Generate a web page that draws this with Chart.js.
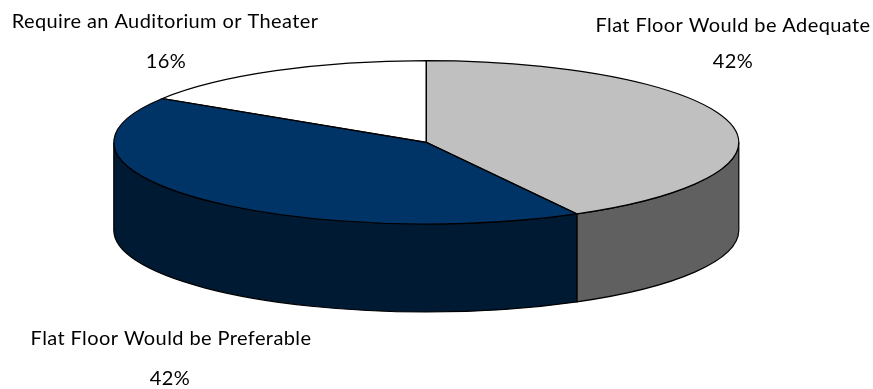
<!DOCTYPE html>
<html><head><meta charset="utf-8">
<style>html,body{margin:0;padding:0;background:#fff}#w{position:relative;width:873px;height:389px}</style>
<script src="https://cdn.jsdelivr.net/npm/chart.js@4"></script></head>
<body><div id="w"><canvas id="c" width="873" height="389"></canvas></div>
<script>
const categories = ["Flat Floor Would be Adequate","Flat Floor Would be Preferable","Require an Auditorium or Theater"];
const shares = [42,42,16];
const shareLabels = ["42%","42%","16%"];
const topColors = ["#c0c0c0","#003366","#ffffff"];
const sideColors = ["#606060","#001a33","#808080"];
const labelPos = [[733,26,733,62],[171,339,170,379],[165,22,166,62]];
const C = {cx:426.3,cy:142.3,rx:312.5,ry:81.7,depth:88};
const FONT = "20px Lato";
function squash(ctx,a){
  ctx.translate(C.cx,C.cy);
  ctx.scale(C.rx/a.outerRadius,C.ry/a.outerRadius);
  ctx.translate(-a.x,-a.y);
}
function pathSlice(ctx,a){
  ctx.beginPath();ctx.moveTo(a.x,a.y);ctx.arc(a.x,a.y,a.outerRadius,a.startAngle,a.endAngle);ctx.closePath();
}
function pathSide(ctx,a){
  const s=Math.max(a.startAngle,0), e=Math.min(a.endAngle,Math.PI);
  if(e<=s) return false;
  const h=C.depth*a.outerRadius/C.ry;
  ctx.beginPath();ctx.arc(a.x,a.y,a.outerRadius,s,e);ctx.lineTo(a.x+a.outerRadius*Math.cos(e),a.y+a.outerRadius*Math.sin(e)+h);
  ctx.arc(a.x,a.y+h,a.outerRadius,e,s,true);ctx.closePath();
  return true;
}
const pie3d = {id:"pie3d",
  beforeDatasetsDraw(chart){
    const ctx=chart.ctx, arcs=chart.getDatasetMeta(0).data;
    arcs.forEach((a,i)=>{
      ctx.save();squash(ctx,a);
      const ok=pathSide(ctx,a);
      ctx.restore();
      if(ok){ctx.fillStyle=sideColors[i];ctx.fill();ctx.strokeStyle="#000";ctx.lineWidth=1.2;ctx.stroke();}
    });
    ctx.save();squash(ctx,arcs[0]);
  },
  afterDatasetsDraw(chart){
    const ctx=chart.ctx, arcs=chart.getDatasetMeta(0).data;
    ctx.restore();
    arcs.forEach(a=>{
      ctx.save();squash(ctx,a);pathSlice(ctx,a);ctx.restore();
      ctx.strokeStyle="#000";ctx.lineWidth=1.2;ctx.stroke();
    });
    ctx.save();ctx.font=FONT;ctx.letterSpacing="0.4px";ctx.fillStyle="#000";ctx.textBaseline="middle";ctx.textAlign="center";
    categories.forEach((t,i)=>{const p=labelPos[i];
      ctx.fillText(t,p[0],p[1]);
      ctx.fillText(shareLabels[i],p[2],p[3]);
    });
    ctx.restore();
  }};
new Chart(document.getElementById("c"),{type:"pie",
  data:{labels:categories,datasets:[{data:shares,backgroundColor:topColors,borderWidth:0}]},
  options:{responsive:false,animation:false,plugins:{legend:{display:false},tooltip:{enabled:false}}},
  plugins:[pie3d]});
</script></body></html>
